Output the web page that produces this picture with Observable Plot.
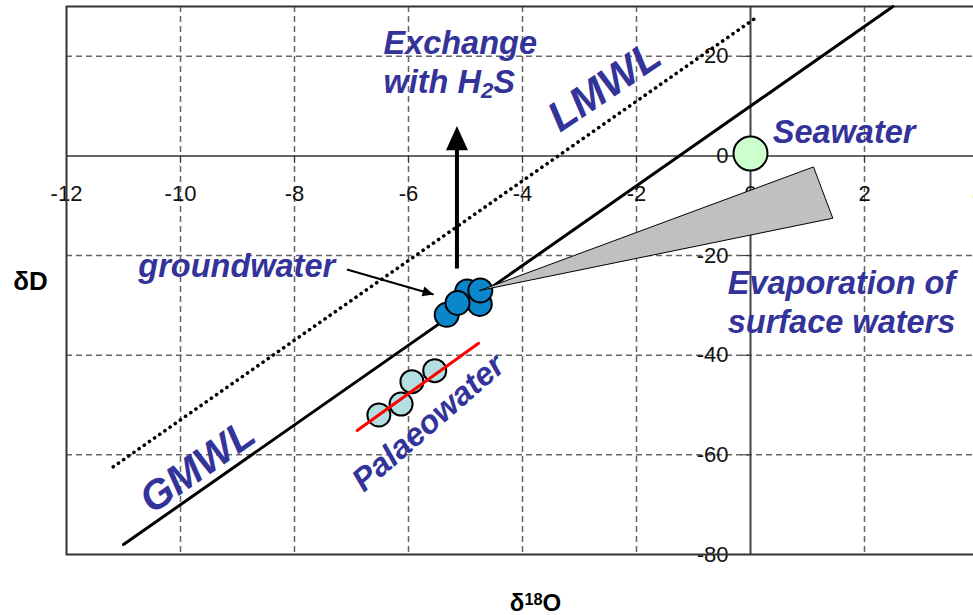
<!DOCTYPE html>
<html>
<head>
<meta charset="utf-8">
<script src="https://cdn.jsdelivr.net/npm/d3@7"></script>
<script src="https://cdn.jsdelivr.net/npm/@observablehq/plot@0.6"></script>
<style>
  html, body { margin: 0; padding: 0; background: #fff; overflow: hidden; }
</style>
</head>
<body>
<div id="chart"></div>
<script>
// ---- tick values ----
const xTicks = [-12, -10, -8, -6, -4, -2, 0, 2, 4];
const yTicks = [-80, -60, -40, -20, 0, 20];
const xGrid = [-10, -8, -6, -4, -2, 2];
const yGrid = [-60, -40, -20, 20];

// ---- meteoric water lines (end points) ----
const gmwlX = [-11.0, 2.5];
const gmwlY = [-78.0, 30.0];
const lmwlX = [-11.18, 0.09];
const lmwlY = [-62.4, 27.7];

// ---- samples ----
const groundX = [-4.97, -4.75, -5.33, -5.14, -4.74];
const groundY = [-27.2, -29.7, -31.9, -29.5, -27.0];
const palaeoX = [-6.52, -6.13, -5.94, -5.54];
const palaeoY = [-52.0, -49.8, -45.3, -43.1];
const palaeoFitX = [-6.90, -4.77];
const palaeoFitY = [-55.1, -37.6];
const seaX = [0];
const seaY = [0.5];

// ---- evaporation wedge ----
const wedgeX = [-4.75, 1.105, 1.444, -4.75];
const wedgeY = [-27.0, -2.2, -12.5, -27.0];

// ---- arrows ----
const h2sArrowX = [-5.15];
const h2sArrowY1 = [-22.7];
const h2sArrowY2 = [1.5];
const h2sArrowTip = [6.0];
const gwPointerX1 = [-7.08];
const gwPointerY1 = [-22.8];
const gwPointerX2 = [-5.56];
const gwPointerY2 = [-27.8];

// ---- annotations ----
const annoText = ["Exchange\nwith H_{2}S", "LMWL", "Seawater", "groundwater",
                  "Evaporation of\nsurface waters", "GMWL", "Palaeowater"];
const annoX = [-6.44, -2.56, 0.39, -10.74, -0.40, -9.70, -5.65];
const annoY = [12.7, 13.9, 2.7, -24.3, -35.6, -62.4, -53.6];

const axisLabelY = ["δD"];
const axisLabelX = ["δ^{18}O"];

// ---- helpers ----
const idx = (a) => a.map((_, i) => i);
const arrowHead = {
  draw(ctx, size) {
    const r = Math.sqrt(size / Math.PI);
    ctx.moveTo(0, 0);
    ctx.lineTo(-r, 2.2 * r);
    ctx.lineTo(r, 2.2 * r);
    ctx.closePath();
  }
};
const blue = {fill: "#333399", fontWeight: "bold", fontStyle: "italic"};
function anno(i, opts) {
  return Plot.text([i], {x: (j) => annoX[j], y: (j) => annoY[j], text: (j) => annoText[j], ...blue, ...opts});
}

const chart = Plot.plot({
  width: 973,
  height: 615,
  marginTop: 6,
  marginLeft: 66,
  marginRight: -5,
  marginBottom: 61,
  style: {fontFamily: "'Liberation Sans', Arial, sans-serif", background: "#fff"},
  x: {domain: [-12, 4]},
  y: {domain: [-80, 30]},
  marks: [
    Plot.gridX(xGrid, {stroke: "#666", strokeOpacity: 1, strokeWidth: 1.5, strokeDasharray: "6,4"}),
    Plot.gridY(yGrid, {stroke: "#666", strokeOpacity: 1, strokeWidth: 1.5, strokeDasharray: "6,4"}),
    Plot.ruleY([0], {stroke: "#666", strokeWidth: 2}),
    Plot.ruleX([0], {stroke: "#444", strokeWidth: 2}),
    Plot.axisX(xTicks, {anchor: "bottom", dy: -399, tickSize: 8, tickPadding: 22, fontSize: 22,
      tickFormat: (d) => String(d), label: null, stroke: "#333", fill: "#111"}),
    Plot.axisY(yTicks, {anchor: "left", dx: 684, tickSize: 9, tickPadding: 13, fontSize: 22,
      tickFormat: (d) => String(d), label: null, stroke: "#333", fill: "#111"}),
    Plot.frame({stroke: "#333", strokeWidth: 2}),
    // water lines
    Plot.line(idx(lmwlX), {x: (i) => lmwlX[i], y: (i) => lmwlY[i], stroke: "#000", strokeWidth: 3.6,
      strokeDasharray: "0.1,6.2", strokeLinecap: "round"}),
    Plot.line(idx(gmwlX), {x: (i) => gmwlX[i], y: (i) => gmwlY[i], stroke: "#000", strokeWidth: 3}),
    // seawater
    Plot.dot(idx(seaX), {x: (i) => seaX[i], y: (i) => seaY[i], r: 17, fill: "#ccffcc", stroke: "#000", strokeWidth: 2}),
    // samples
    Plot.dot(idx(groundX), {x: (i) => groundX[i], y: (i) => groundY[i], r: 12, fill: "#0a86cb", stroke: "#000", strokeWidth: 2}),
    Plot.dot(idx(palaeoX), {x: (i) => palaeoX[i], y: (i) => palaeoY[i], r: 11.5, fill: "#b3dfe2", stroke: "#000", strokeWidth: 2}),
    Plot.line(idx(palaeoFitX), {x: (i) => palaeoFitX[i], y: (i) => palaeoFitY[i], stroke: "#ff0000", strokeWidth: 3}),
    // evaporation wedge
    Plot.line(idx(wedgeX), {x: (i) => wedgeX[i], y: (i) => wedgeY[i], fill: "#c0c0c0", stroke: "#000", strokeWidth: 1}),
    // arrows
    Plot.ruleX(idx(h2sArrowX), {x: (i) => h2sArrowX[i], y1: (i) => h2sArrowY1[i], y2: (i) => h2sArrowY2[i], stroke: "#000", strokeWidth: 4}),
    Plot.dot(idx(h2sArrowX), {x: (i) => h2sArrowX[i], y: (i) => h2sArrowTip[i], symbol: arrowHead, r: 11, fill: "#000", stroke: "none"}),
    Plot.link(idx(gwPointerX1), {x1: (i) => gwPointerX1[i], y1: (i) => gwPointerY1[i], x2: (i) => gwPointerX2[i], y2: (i) => gwPointerY2[i], stroke: "#000", strokeWidth: 2}),
    Plot.dot(idx(gwPointerX2), {x: (i) => gwPointerX2[i], y: (i) => gwPointerY2[i], symbol: arrowHead, r: 5, rotate: 106, fill: "#000", stroke: "none"}),
    // annotations
    anno(0, {textAnchor: "start", lineAnchor: "bottom", fontSize: 32.5, lineHeight: 1.2}),
    anno(1, {rotate: -34, fontSize: 42}),
    anno(2, {textAnchor: "start", lineAnchor: "bottom", fontSize: 32.5}),
    anno(3, {textAnchor: "start", lineAnchor: "bottom", fontSize: 32.5}),
    anno(4, {textAnchor: "start", lineAnchor: "bottom", fontSize: 32.5, lineHeight: 1.2}),
    anno(5, {rotate: -35, fontSize: 41}),
    anno(6, {rotate: -41, fontSize: 32.5}),
    // axis titles
    Plot.text(axisLabelY, {text: (d) => d, frameAnchor: "left", y: -25.2, dx: -36, textAnchor: "middle", fontSize: 26, fontWeight: "bold", fill: "#000"}),
    Plot.text(axisLabelX, {text: (d) => d, frameAnchor: "bottom", lineAnchor: "bottom", dx: 13, dy: 56, fontSize: 24, fontWeight: "bold", fill: "#000"})
  ]
});

// turn ^{..} and _{..} markup into real super/subscript tspans
(function richify(root) {
  const walker = document.createTreeWalker(root, NodeFilter.SHOW_TEXT);
  const nodes = [];
  while (walker.nextNode()) nodes.push(walker.currentNode);
  for (const n of nodes) {
    const s = n.data;
    if (!/[\^_]\{/.test(s)) continue;
    const parent = n.parentNode;
    const re = /([\^_])\{([^}]*)\}/g;
    let last = 0, m;
    const parts = [];
    while ((m = re.exec(s))) {
      if (m.index > last) parts.push(document.createTextNode(s.slice(last, m.index)));
      const t = document.createElementNS("http://www.w3.org/2000/svg", "tspan");
      t.setAttribute("baseline-shift", m[1] === "^" ? "40%" : "-22%");
      t.setAttribute("font-size", "68%");
      t.textContent = m[2];
      parts.push(t);
      last = re.lastIndex;
    }
    if (last < s.length) parts.push(document.createTextNode(s.slice(last)));
    for (const p of parts) parent.insertBefore(p, n);
    parent.removeChild(n);
  }
})(chart);

document.getElementById("chart").appendChild(chart);
</script>
</body>
</html>
